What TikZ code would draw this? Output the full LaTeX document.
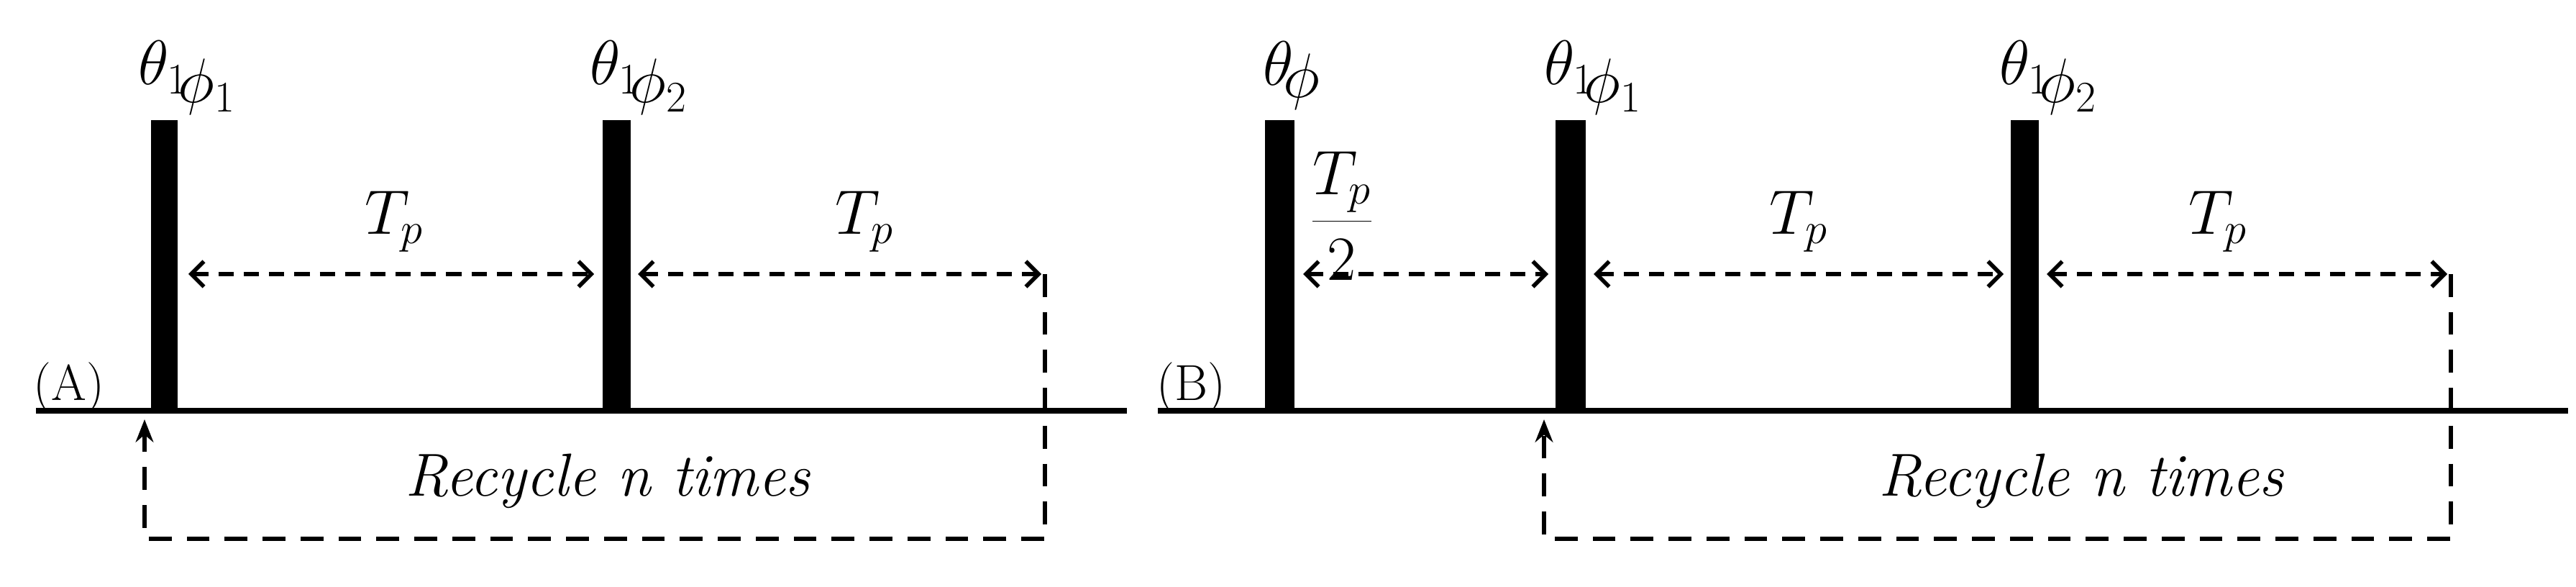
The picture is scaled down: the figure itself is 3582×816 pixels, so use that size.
\documentclass[tikz,border=0pt]{standalone}
\usetikzlibrary{arrows.meta}
\newcommand{\thph}[1]{\theta_1\!\lower7pt\hbox{$\phi_{#1}$}}
\begin{document}
\begin{tikzpicture}[x=0.01cm,y=-0.01cm,
  base/.style={line width=2.2pt},
  pulse/.style={fill=black},
  dim/.style={dashed,line width=1.6pt,dash pattern=on 6pt off 4pt,{Straight Barb[length=5pt,width=10pt]}-{Straight Barb[length=5pt,width=10pt]}},
  loop/.style={dashed,line width=1.5pt,dash pattern=on 9pt off 6pt},
  lab/.style={font=\fontsize{24}{28}\selectfont},
  txt/.style={font=\fontsize{24}{28}\selectfont\itshape}]
\useasboundingbox (0,0) rectangle (3582,816);
% ---------- A ----------
\draw[base] (50,571) -- (1567,571);
\fill[pulse] (210,167) rectangle (247,571);
\fill[pulse] (838,167) rectangle (877,571);
\node[lab,anchor=west] (tA1) at (180,108) {$\thph{1}$};
\node[lab,anchor=west] (tA2) at (808,108) {$\thph{2}$};
\coordinate (a1) at (262,381); \coordinate (a2) at (826,381);
\coordinate (a3) at (887,381); \coordinate (a4) at (1448,381);
\draw[dim] (a1) -- (a2);
\draw[dim] (a3) -- (a4);
\node[lab] (TA1) at (548,308) {$T_p$};
\node[lab] (TA2) at (1202,308) {$T_p$};
\node[font=\fontsize{20}{24}\selectfont] (LA) at (96,539) {(A)};
\coordinate (ra) at (1453,381); \coordinate (rb) at (1453,749);
\coordinate (rc) at (201,749); \coordinate (rd) at (201,583);
\draw[loop,-{Stealth[length=9pt,width=7pt]}] (ra) -- (rb) -- (rc) -- (rd);
\node[txt] (RA) at (845,669) {Recycle n times};
% ---------- B ----------
\draw[base] (1610,571) -- (3571,571);
\fill[pulse] (1759,167) rectangle (1800,571);
\fill[pulse] (2163,167) rectangle (2205,571);
\fill[pulse] (2796,167) rectangle (2835,571);
\node[lab,anchor=west] (tB0) at (1744,105) {$\theta\!\lower5pt\hbox{$\phi$}$};
\node[lab,anchor=west] (tB1) at (2135,108) {$\thph{1}$};
\node[lab,anchor=west] (tB2) at (2768,108) {$\thph{2}$};
\coordinate (b1) at (1812,381); \coordinate (b2) at (2153,381);
\coordinate (b3) at (2216,381); \coordinate (b4) at (2786,381);
\coordinate (b5) at (2846,381); \coordinate (b6) at (3403,381);
\draw[dim] (b1) -- (b2);
\draw[dim] (b3) -- (b4);
\draw[dim] (b5) -- (b6);
\node[lab] (TB0) at (1866,300) {$\displaystyle\frac{T_p}{2}$};
\node[lab] (TB1) at (2501,308) {$T_p$};
\node[lab] (TB2) at (3084,308) {$T_p$};
\node[font=\fontsize{20}{24}\selectfont] (LB) at (1656,539) {(B)};
\coordinate (sa) at (3408,381); \coordinate (sb) at (3408,749);
\coordinate (sc) at (2147,749); \coordinate (sd) at (2147,583);
\draw[loop,-{Stealth[length=9pt,width=7pt]}] (sa) -- (sb) -- (sc) -- (sd);
\node[txt] (RB) at (2894,669) {Recycle n times};
\end{tikzpicture}
\end{document}
